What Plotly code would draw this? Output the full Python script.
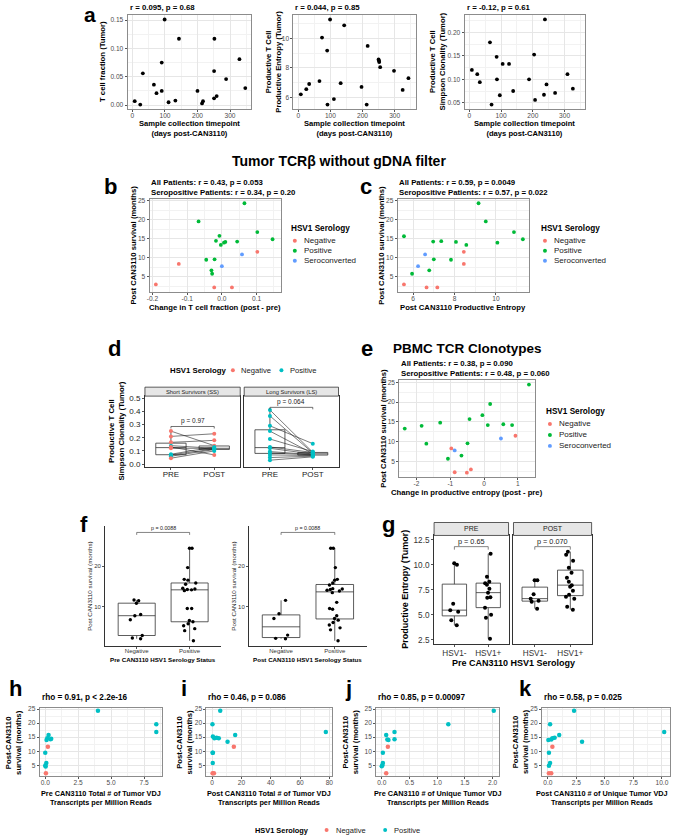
import numpy as np
import plotly.graph_objects as go

W, H = 676, 840
FONT = "Liberation Sans, Arial, sans-serif"
C3 = {"N": "#F8766D", "P": "#00BA38", "S": "#619CFF"}
C2 = {"N": "#F8766D", "P": "#00BFC4"}
SERO3_LABELS = ["Negative", "Positive", "Seroconverted"]
SERO2_LABELS = ["Negative", "Positive"]

# ---------------- panel a ----------------
a_tf_days = [7, 24, 32, 66, 74, 90, 90, 99, 111, 132, 143, 200, 214, 217, 251, 251, 252, 259, 288, 329, 347]
a_tf = [0.007, 0.001, 0.056, 0.036, 0.021, 0.025, 0.075, 0.151, 0.005, 0.008, 0.117, 0.025, 0.003, 0.007,
        0.012, 0.060, 0.117, 0.016, 0.046, 0.081, 0.030]
a_ent_days = [8, 25, 34, 66, 74, 90, 91, 99, 111, 132, 143, 197, 213, 216, 250, 251, 252, 255, 298, 325, 343]
a_ent = [6.2, 6.55, 6.9, 7.1, 10.07, 9.18, 5.5, 11.3, 5.87, 6.96, 10.9, 6.7, 5.5, 9.5, 8.58, 8.5, 8.4, 8.05,
         7.8, 6.5, 7.3]
a_clon_days = [8, 25, 33, 65, 70, 86, 87, 96, 105, 125, 138, 188, 204, 207, 235, 238, 243, 270, 309, 326]
a_clon = [0.12, 0.111, 0.094, 0.179, 0.046, 0.148, 0.10, 0.066, 0.133, 0.133, 0.075, 0.10, 0.153, 0.056,
          0.067, 0.228, 0.089, 0.071, 0.111, 0.080]
a_titles = ["r = 0.095, p = 0.68", "r = 0.044, p = 0.85", "r = -0.12, p = 0.61"]

# ---------------- panel b / c / e ----------------
b_dtf = [-0.19, -0.124, 0.102, -0.022, 0.029, -0.067, -0.007, -0.017, 0.01, 0.006, -0.003, 0.044, 0.102,
         0.146, 0.065, -0.045, -0.021, -0.03, -0.028, 0.058, 0.0]
b_surv = [3.0, 8.4, 11.6, 2.2, 2.2, 19.6, 15.8, 14.5, 14.2, 14.0, 13.4, 14.3, 16.8, 14.9, 24.4, 9.5, 9.6,
          6.7, 5.8, 10.9, 7.8]
b_sero = "NNNNNPPPPPPPPPPPPPPSS"

c_ent = [5.56, 6.65, 7.17, 8.45, 8.45, 5.56, 5.95, 6.78, 7.0, 6.97, 7.36, 8.07, 7.83, 8.57, 9.16, 9.51,
         10.07, 10.87, 11.3, 6.24, 6.58]
c_surv = [3.0, 2.2, 2.2, 11.6, 8.4, 15.7, 5.8, 6.7, 9.6, 14.3, 14.4, 14.2, 9.5, 13.4, 24.4, 19.6, 14.0,
          16.8, 14.9, 7.8, 10.9]
c_sero = "NNNNNPPPPPPPPPPPPPPSS"

e_dent = [-0.97, -0.87, -0.51, -0.39, 0.93, -2.35, -1.85, -1.71, -1.30, -0.43, 0.18, -0.05, 0.11, 0.57,
          0.83, -0.49, -0.67, -1.07, 1.33, -0.87, 0.50]
e_surv = [8.3, 2.3, 2.2, 3.0, 11.5, 13.3, 14.0, 9.5, 14.8, 15.7, 19.5, 16.7, 14.2, 14.4, 14.2, 9.6, 6.5,
          5.7, 24.4, 7.8, 10.8]
e_sero = "NNNNNPPPPPPPPPPPPPPSS"

bc_titles = ["All Patients: r = 0.43, p = 0.053<br>Seropositive Patients: r = 0.34, p = 0.20",
             "All Patients: r = 0.59, p = 0.0049<br>Seropositive Patients: r = 0.57, p = 0.022",
             "All Patients: r = 0.38, p = 0.090<br>Seropositive Patients: r = 0.48, p = 0.060"]

# ---------------- panel d ----------------
d_cats = ["PRE", "POST"]
d_ss_pre = [0.25, 0.21, 0.165, 0.14, 0.13, 0.12, 0.075, 0.07, 0.06, 0.045]
d_ss_post = [0.14, 0.23, 0.18, 0.12, 0.07, 0.12, 0.13, 0.115, 0.11, 0.10]
d_ss_pre_sero = "NNNPNNPPPN"
d_ss_post_sero = "NNNPNPPPPP"
d_ls_pre = [0.41, 0.365, 0.29, 0.25, 0.19, 0.13, 0.12, 0.095, 0.085, 0.07, 0.05, 0.03]
d_ls_post = [0.09, 0.085, 0.155, 0.08, 0.095, 0.088, 0.076, 0.072, 0.07, 0.065, 0.06, 0.055]
d_ls_pre_sero = "PPPPPPPPPPPP"
d_ls_post_sero = "PPPPPPPPPPPP"
d_strips = ["Short Survivors (SS)", "Long Survivors (LS)"]
d_pvals = ["p = 0.97", "p = 0.064"]
d_pval_y = [0.285, 0.43]

# ---------------- panel f ----------------
f_cats = ["Negative", "Positive"]
f_pre_neg = [11.6, 11.4, 10.8, 8.0, 7.7, 6.7, 2.8, 2.2, 2.0]
f_pre_pos = [24.4, 24.4, 19.6, 16.7, 16.5, 15.8, 15.5, 14.5, 14.3, 14.2, 14.1, 13.9, 9.5, 9.5, 6.5, 6.2,
             5.7, 5.2, 4.5, 4.0, 1.5]
f_post_neg = [11.5, 8.2, 7.0, 2.9, 2.1, 2.0]
f_post_pos = [24.4, 24.4, 19.6, 16.7, 16.5, 15.8, 15.3, 14.4, 14.3, 14.2, 14.0, 13.8, 13.4, 11.0, 9.5,
              9.3, 7.7, 7.0, 6.6, 6.0, 5.4, 4.7, 4.2, 1.5]
f_pvals = ["p = 0.0088", "p = 0.0088"]
f_xtitles = ["Pre CAN3110 HSV1 Serology Status", "Post CAN3110 HSV1 Serology Status"]

# ---------------- panel g ----------------
g_cats = ["HSV1-", "HSV1+"]
g_pre_neg = [10.15, 10.0, 6.1, 5.45, 5.3, 4.45, 3.95]
g_pre_pos = [11.1, 8.8, 8.3, 8.15, 8.0, 7.6, 7.2, 6.75, 6.7, 5.7, 5.0, 4.7, 2.6]
g_post_neg = [8.45, 8.45, 7.05, 6.6, 6.4, 6.3, 5.6]
g_post_pos = [11.3, 11.0, 10.4, 9.7, 9.2, 8.7, 8.3, 7.95, 7.8, 7.4, 7.0, 6.8, 6.6, 5.8, 5.5]
g_strips = ["PRE", "POST"]
g_pvals = ["p = 0.65", "p = 0.070"]

# ---------------- panels h-k ----------------
h_x = [8.43, 8.43, 4.0, 0.25, 0.15, 0.4, 0.45, 0.1, 0.0, 0.08, 0.0, 0.03, 0.2, 0.05]
h_y = [19.6, 16.8, 24.4, 15.8, 14.6, 14.3, 14.4, 14.0, 9.5, 5.8, 4.9, 4.6, 11.6, 2.2]
h_sero = "PPPPPPPPPPPPNN"
i_x = [77.6, 5.5, 0.2, 0.5, 1.5, 3.0, 4.5, 10.5, 15.7, 0.3, 0.5, 0.4, 14.8, 0.3, 1.2]
i_y = [16.8, 24.4, 19.6, 15.2, 14.6, 14.8, 14.6, 13.4, 15.8, 9.5, 9.5, 5.8, 11.6, 2.2, 2.2]
i_sero = "PPPPPPPPPPPPNNN"
j_x = [2.02, 1.2, 0.23, 0.23, 0.08, 0.1, 0.12, 0.02, 0.02, 0.01, 0.0, 0.11, 0.08]
j_y = [24.4, 19.6, 16.8, 14.3, 15.8, 14.2, 14.0, 9.5, 5.8, 5.0, 4.7, 11.6, 2.2]
j_sero = "PPPPPPPPPPPNN"
k_x = [2.3, 10.2, 3.0, 0.2, 0.3, 0.6, 1.0, 0.05, 0.1, 0.2, 0.1, 0.4, 0.4, 0.1, 0.3]
k_y = [24.4, 16.8, 13.4, 19.6, 14.2, 14.8, 15.8, 14.0, 9.5, 5.8, 4.8, 14.6, 11.6, 2.2, 2.2]
k_sero = "PPPPPPPPPPPPNNN"
hk_titles = ["rho = 0.91, p < 2.2e-16", "rho = 0.46, p = 0.086", "rho = 0.85, p = 0.00097", "rho = 0.58, p = 0.025"]
hk_xtitles = ["Pre CAN3110 Total # of Tumor VDJ<br>Transcripts per Million Reads",
              "Post CAN3110 Total # of Tumor VDJ<br>Transcripts per Million Reads",
              "Pre CAN3110 # of Unique Tumor VDJ<br>Transcripts per Million Reads",
              "Post CAN3110 # of Unique Tumor VDJ<br>Transcripts per Million Reads"]

# =====================================================================
fig = go.Figure()
layout = dict(width=W, height=H, margin=dict(l=0, r=0, t=0, b=0), paper_bgcolor="white",
              plot_bgcolor="white", showlegend=False, boxmode="overlay",
              font=dict(family=FONT, color="black"))
ann = []
shp = []
TICKGREY = "#4D4D4D"


def T(x, y, s, size, bold=False, anchor="left", angle=0, color="black", align="center", vanchor="middle"):
    if bold:
        s = "<b>" + s + "</b>"
    ann.append(dict(x=x / W, y=1 - y / H, xref="paper", yref="paper", text=s, showarrow=False,
                    xanchor=anchor, yanchor=vanchor, textangle=angle, align=align, borderpad=0,
                    font=dict(size=size, color=color, family=FONT)))


def dot(cx, cy, color, r=2.0):
    shp.append(dict(type="circle", xref="paper", yref="paper", x0=(cx - r) / W, x1=(cx + r) / W,
                    y0=1 - (cy + r) / H, y1=1 - (cy - r) / H, fillcolor=color, line=dict(width=0)))


def rect(l, t, r, b, fill, line="#333333", lw=0.8):
    shp.append(dict(type="rect", xref="paper", yref="paper", x0=l / W, x1=r / W, y0=1 - b / H, y1=1 - t / H,
                    fillcolor=fill, line=dict(color=line, width=lw), layer="above"))


def axes(n, box, xr, yr, style, xkw=None, ykw=None, tfs=6.6, tcol=TICKGREY, xstand=-2):
    l, r, t, b = box
    xa, ya = ("xaxis", "yaxis") if n == 1 else (f"xaxis{n}", f"yaxis{n}")
    xref, yref = ("x", "y") if n == 1 else (f"x{n}", f"y{n}")
    common = dict(zeroline=False, fixedrange=True, ticks="outside", ticklen=2, tickwidth=0.7,
                  tickcolor="#555555", tickfont=dict(size=tfs, color=tcol, family=FONT), type="linear")
    if style == "bw":
        common.update(showline=True, mirror=True, linecolor="#8C8C8C", linewidth=1, showgrid=True,
                      gridcolor="#E6E6E6", gridwidth=0.7)
    elif style == "facet":
        common.update(showline=True, mirror=True, linecolor="#333333", linewidth=0.9, showgrid=False)
    else:
        common.update(showline=True, mirror=False, linecolor="#333333", linewidth=0.8, showgrid=False)
    X = dict(common, domain=[l / W, r / W], range=xr, anchor=yref, ticklabelstandoff=xstand)
    Y = dict(common, domain=[1 - b / H, 1 - t / H], range=yr, anchor=xref)
    if xkw:
        X.update(xkw)
    if ykw:
        Y.update(ykw)
    layout[xa] = X
    layout[ya] = Y
    return xref, yref


def grid(d, fmt=None, t0=0):
    g = dict(dtick=d, tick0=t0, minor=dict(dtick=d / 2, tick0=t0, showgrid=True, gridcolor="#F2F2F2",
                                              gridwidth=0.5, ticks=""))
    if fmt:
        g["tickformat"] = fmt
    return g


def gridvals(vals, texts, minor_d):
    return dict(tickmode="array", tickvals=vals, ticktext=texts,
                minor=dict(dtick=minor_d, tick0=0, showgrid=True, gridcolor="#F2F2F2", gridwidth=0.5, ticks=""))


def pts(xr, yr, x, y, colors, size):
    fig.add_trace(go.Scatter(x=x, y=y, mode="markers", xaxis=xr, yaxis=yr, hoverinfo="skip",
                             marker=dict(color=colors, size=size, line=dict(width=0))))


def stats(vals):
    v = np.sort(np.asarray(vals, dtype=float))
    q1, med, q3 = np.percentile(v, [25, 50, 75])
    iqr = q3 - q1
    lo = v[v >= q1 - 1.5 * iqr].min()
    hi = v[v <= q3 + 1.5 * iqr].max()
    return q1, med, q3, lo, hi


def boxstat(xr, yr, pos, vals, width, fill="white", lw=0.8):
    q1, med, q3, lo, hi = stats(vals)
    fig.add_trace(go.Box(x=[pos], q1=[q1], median=[med], q3=[q3], lowerfence=[lo], upperfence=[hi],
                         width=width, whiskerwidth=0, fillcolor=fill, boxpoints=False,
                         line=dict(color="#333333", width=lw), xaxis=xr, yaxis=yr, hoverinfo="skip"))


def jitter_pts(xr, yr, pos, vals, width, jit, size=3.6, color="black"):
    fig.add_trace(go.Box(x=[pos] * len(vals), y=vals, boxpoints="all", jitter=jit, pointpos=0, width=width,
                         fillcolor="rgba(0,0,0,0)", line=dict(color="rgba(0,0,0,0)", width=0),
                         whiskerwidth=0, marker=dict(color=color, size=size), xaxis=xr, yaxis=yr,
                         hoverinfo="skip"))


def bracket(xr, yr, x1, x2, yb, tip, label, size, lw=0.7):
    fig.add_trace(go.Scatter(x=[x1, x1, x2, x2], y=[yb - tip, yb, yb, yb - tip], mode="lines",
                             line=dict(color="#333333", width=lw), xaxis=xr, yaxis=yr, hoverinfo="skip"))
    ann.append(dict(x=(x1 + x2) / 2, y=yb, xref=xr, yref=yr, text=label, showarrow=False, yanchor="bottom",
                    xanchor="center", borderpad=0, font=dict(size=size, color="#222222", family=FONT)))


# ---------------- panel a ----------------
A_YR = [[-0.0065, 0.1585], [5.21, 11.59], [0.037, 0.237]]
a_boxes = [(125.5, 250, 13.3, 107.3), (292.6, 415.6, 13.3, 107.3), (465, 586.6, 13.3, 107.3)]
a_data = [(a_tf_days, a_tf), (a_ent_days, a_ent), (a_clon_days, a_clon)]
a_yg = [grid(0.05, ".2f"), grid(2), grid(0.05, ".2f")]
for k in range(3):
    xr, yr = axes(k + 1, a_boxes[k], [-15, 365], A_YR[k], "bw", xkw=grid(100), ykw=a_yg[k])
    pts(xr, yr, a_data[k][0], a_data[k][1], "black", 3.8)
    T(a_boxes[k][0] + 1, 5.5, a_titles[k], 7.8, bold=True)
    T((a_boxes[k][0] + a_boxes[k][1]) / 2, 127, "Sample collection timepoint<br>(days post-CAN3110)", 7.6,
      bold=True, anchor="center")
T(100, 60, "T cell fraction (Tumor)", 7.7, bold=True, anchor="center", angle=-90)
T(273, 60, "Productive T Cell<br>Productive Entropy (Tumor)", 7.7, bold=True, anchor="center", angle=-90)
T(438, 60, "Productive T Cell<br>Simpson Clonality (Tumor)", 7.7, bold=True, anchor="center", angle=-90)
T(88, 0, "a", 21, bold=True, anchor="center", vanchor="top")

# ---------------- title ----------------
T(338, 160, "Tumor TCRβ without gDNA filter", 14, bold=True, anchor="center")

# ---------------- panels b, c ----------------
SURV_R = [1.09, 25.51]
xr, yr = axes(4, (147.7, 280, 198, 291), [-0.208, 0.17], SURV_R, "bw",
              xkw=gridvals([-0.2, -0.1, 0.0, 0.1], ["-0.2", "-0.1", "0.0", "0.1"], 0.05), ykw=grid(5))
pts(xr, yr, b_dtf, b_surv, [C3[s] for s in b_sero], 3.8)
xr, yr = axes(5, (397.7, 530, 198, 291), [5.26, 11.6], SURV_R, "bw", xkw=grid(2), ykw=grid(5))
pts(xr, yr, c_ent, c_surv, [C3[s] for s in c_sero], 3.8)
for (l, r), title, xt, lx in [((147.7, 280), bc_titles[0], "Change in T cell fraction (post - pre)", 289),
                              ((397.7, 530), bc_titles[1], "Post CAN3110 Productive Entropy", 541)]:
    T(l, 186.5, title, 7.8, bold=True, align="left")
    T((l + r) / 2, 306.5, xt, 7.7, bold=True, anchor="center")
    T(l - 16.5, 244.5, "Post CAN3110 survival (months)", 7.7, bold=True, anchor="center", angle=-90)
    T(lx, 228, "HSV1 Serology", 8.2, bold=True)
    for idx, lab in enumerate(SERO3_LABELS):
        dot(lx + 5, 240 + 10 * idx, C3[lab[0]])
        T(lx + 13, 240 + 10 * idx, lab, 8.0, color="#222222")
T(108, 185, "b", 22, bold=True, anchor="center")
T(366, 185, "c", 22, bold=True, anchor="center")

# ---------------- panel d ----------------
D_YR = [-0.02, 0.515]
d_sets = [(d_ss_pre, d_ss_post, d_ss_pre_sero, d_ss_post_sero), (d_ls_pre, d_ls_post, d_ls_pre_sero, d_ls_post_sero)]
d_boxes = [(143, 239, 396, 467), (243, 338, 396, 467)]
for k in range(2):
    ykw = dict(dtick=0.1, tick0=0, tickformat=".1f")
    if k == 1:
        ykw.update(showticklabels=False, ticks="")
    xr, yr = axes(6 + k, d_boxes[k], [0.4, 2.6], D_YR, "facet",
                  xkw=dict(tickmode="array", tickvals=[1, 2], ticktext=d_cats, tickfont=dict(size=8, color="#222222")),
                  ykw=ykw, tfs=8, tcol="#222222")
    pre, post, spre, spost = d_sets[k]
    boxstat(xr, yr, 1, pre, 0.7, fill="rgba(0,0,0,0)")
    boxstat(xr, yr, 2, post, 0.7, fill="rgba(0,0,0,0)")
    lx, ly = [], []
    for p, q in zip(pre, post):
        lx += [1, 2, None]
        ly += [p, q, None]
    fig.add_trace(go.Scatter(x=lx, y=ly, mode="lines", line=dict(color="#222222", width=0.6),
                             xaxis=xr, yaxis=yr, hoverinfo="skip"))
    pts(xr, yr, [1] * len(pre) + [2] * len(post), list(pre) + list(post),
        [C2[s] for s in spre] + [C2[s] for s in spost], 4)
    bracket(xr, yr, 1, 2, d_pval_y[k], 0.015, d_pvals[k], 6.5)
    l, r, t, b = d_boxes[k]
    rect(l, 387, r, 396, "#E6E6E6", lw=0.8)
    T((l + r) / 2, 391.5, d_strips[k], 5.8, anchor="center", color="#222222")
T(114, 431.5, "Productive T Cell<br>Simpson Clonality (Tumor)", 7.8, bold=True, anchor="center", angle=-90)
T(167, 370, "HSV1 Serology", 7.8, bold=True)
dot(231.6, 370, C2["N"])
T(239, 370, "Negative", 7.6, color="#222222")
dot(280.5, 370, C2["P"])
T(288, 370, "Positive", 7.6, color="#222222")
T(112, 348, "d", 22, bold=True, anchor="center")

# ---------------- panel e ----------------
xr, yr = axes(8, (399.3, 536, 380, 477.3), [-2.51, 1.51], SURV_R, "bw",
              xkw=gridvals([-2, -1, 0, 1], ["-2", "-1", "0", "1"], 0.5), ykw=grid(5))
pts(xr, yr, e_dent, e_surv, [C3[s] for s in e_sero], 3.8)
T(367, 348, "e", 22, bold=True, anchor="center")
T(392, 348, "PBMC TCR Clonotypes", 13.5, bold=True)
T(400, 368.5, bc_titles[2], 7.8, bold=True, align="left")
T(383, 428.6, "Post CAN3110 survival (months)", 7.7, bold=True, anchor="center", angle=-90)
T(467.6, 493, "Change in productive entropy (post - pre)", 7.7, bold=True, anchor="center")
T(546, 411, "HSV1 Serology", 8.2, bold=True)
for idx, lab in enumerate(SERO3_LABELS):
    dot(551, 424 + 11 * idx, C3[lab[0]])
    T(559, 424 + 11 * idx, lab, 8.0, color="#222222")

# ---------------- panel f ----------------
f_sets = [(f_pre_neg, f_pre_pos), (f_post_neg, f_post_pos)]
f_boxes = [(102.7, 220, 526.7, 647.3), (247.7, 366.7, 526.7, 647.3)]
for k in range(2):
    xr, yr = axes(9 + k, f_boxes[k], [0.4, 2.6], [0.15, 29.85], "classic",
                  xkw=dict(tickmode="array", tickvals=[1, 2], ticktext=f_cats, tickfont=dict(size=6, color="#333333")),
                  ykw=dict(dtick=10, tick0=0), tfs=6, tcol="#333333", xstand=-3)
    neg, pos = f_sets[k]
    boxstat(xr, yr, 1, neg, 0.7)
    boxstat(xr, yr, 2, pos, 0.7)
    jitter_pts(xr, yr, 1, neg, 0.7, 0.45, size=3.4)
    jitter_pts(xr, yr, 2, pos, 0.7, 0.45, size=3.4)
    bracket(xr, yr, 1, 2, 28.3, 0.6, f_pvals[k], 5.3, lw=0.6)
    l, r, t, b = f_boxes[k]
    T((l + r) / 2, 661, f_xtitles[k], 6.2, bold=True, anchor="center")
    T(l - 15.5, 587, "Post CAN3110 survival (months)", 6.2, anchor="center", angle=-90, color="#222222")
T(82, 525, "f", 22, bold=True, anchor="center")

# ---------------- panel g ----------------
g_sets = [(g_pre_neg, g_pre_pos), (g_post_neg, g_post_pos)]
g_boxes = [(434.3, 509.3, 536, 645), (514.3, 593, 536, 645)]
for k in range(2):
    ykw = dict(dtick=2.5, tick0=0, tickformat=".1f")
    if k == 1:
        ykw.update(showticklabels=False, ticks="")
    xr, yr = axes(11 + k, g_boxes[k], [0.4, 2.6], [2.07, 12.92], "facet",
                  xkw=dict(tickmode="array", tickvals=[1, 2], ticktext=g_cats, tickfont=dict(size=8.2, color="#333333")),
                  ykw=ykw, tfs=8.2, tcol="#333333", xstand=-1)
    neg, pos = g_sets[k]
    boxstat(xr, yr, 1, neg, 0.72)
    boxstat(xr, yr, 2, pos, 0.72)
    jitter_pts(xr, yr, 1, neg, 0.72, 0.4, size=4)
    jitter_pts(xr, yr, 2, pos, 0.72, 0.4, size=4)
    bracket(xr, yr, 1, 2, 11.8, 0.3, g_pvals[k], 7.3, lw=0.6)
    l, r, t, b = g_boxes[k]
    rect(l, 523, r, 536, "#E6E6E6", lw=0.8)
    T((l + r) / 2, 529.5, g_strips[k], 7, anchor="center", color="#222222")
T(405, 590.5, "Productive Entropy (Tumor)", 9, bold=True, anchor="center", angle=-90)
T(514, 664, "Pre CAN3110 HSV1 Serology", 9, bold=True, anchor="center")
T(388, 525, "g", 22, bold=True, anchor="center")

# ---------------- panels h-k ----------------
hk_boxes = [(37, 160, 709, 778), (205, 331, 709, 778), (376, 500, 709, 778), (543, 672, 709, 778)]
hk_xr = [[-0.42, 8.85], [-3.88, 81.5], [-0.1, 2.12], [-0.51, 10.71]]
hk_xg = [grid(2.5, ".1f"), grid(20), grid(0.5, ".1f"), grid(2.5, ".1f")]
hk_data = [(h_x, h_y, h_sero), (i_x, i_y, i_sero), (j_x, j_y, j_sero), (k_x, k_y, k_sero)]
hk_letters = [("h", 13), ("i", 182), ("j", 348), ("k", 526)]
hk_ytitle_x = [11, 183, 351, 522]
hk_xtitle_x = [98.5, 268, 438, 603]
for k in range(4):
    xr, yr = axes(13 + k, hk_boxes[k], hk_xr[k], SURV_R, "bw", xkw=hk_xg[k], ykw=grid(5))
    xs, ys, ss = hk_data[k]
    pts(xr, yr, xs, ys, [C2[s] for s in ss], 4.5)
    l, r, t, b = hk_boxes[k]
    T(l + 1, 699, hk_titles[k], 8.2, bold=True)
    T(hk_xtitle_x[k], 800, hk_xtitles[k], 7.3, bold=True, anchor="center")
    T(hk_ytitle_x[k], 743.5, "Post-CAN3110<br>survival (months)", 7.7, bold=True, anchor="center", angle=-90)
    T(hk_letters[k][1], 690, hk_letters[k][0], 22, bold=True, anchor="center")

T(253, 832, "HSV1 Serology", 7.4, bold=True)
dot(326, 832, C2["N"])
T(334, 832, "Negative", 7.5, color="#222222")
dot(385, 832, C2["P"])
T(393, 832, "Positive", 7.5, color="#222222")

layout["annotations"] = ann
layout["shapes"] = shp
fig.update_layout(**layout)
fig.write_html("out.html", config={"displayModeBar": False},
               post_script="document.body.style.margin='0px';document.body.style.overflow='hidden';")
